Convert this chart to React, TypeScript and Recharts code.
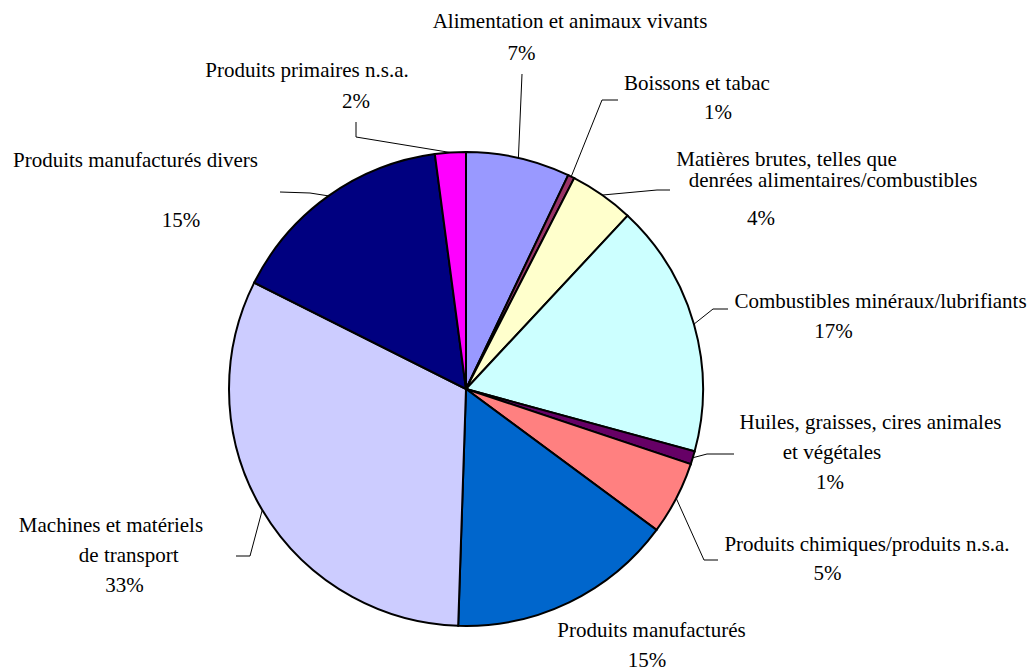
import React from 'react';
import { PieChart, Pie, Cell } from 'recharts';

const CATEGORIES = [
  'Alimentation et animaux vivants',
  'Boissons et tabac',
  'Matières brutes, telles que\ndenrées alimentaires/combustibles',
  'Combustibles minéraux/lubrifiants',
  'Huiles, graisses, cires animales\net végétales',
  'Produits chimiques/produits n.s.a.',
  'Produits manufacturés',
  'Machines et matériels\nde transport',
  'Produits manufacturés divers',
  'Produits primaires n.s.a.',
];
const SHARES = [7.1, 0.45, 4.4, 17.3, 0.9, 5.0, 15.4, 31.9, 15.5, 2.1];
const PCT_LABELS = ['7%', '1%', '4%', '17%', '1%', '5%', '15%', '33%', '15%', '2%'];

const COLORS = [
  '#9999FF', '#993366', '#FFFFCC', '#CCFFFF', '#660066',
  '#FF8080', '#0066CC', '#CCCCFF', '#000080', '#FF00FF',
];

// label layout, offsets from the pie centre: one [x, baseline] per text line
const TEXT_POS: number[][][] = [
  [[104, -361], [55.5, -329]],
  [[231, -299], [252, -270]],
  [[320.5, -223], [367, -202], [295, -164]],
  [[414.5, -81], [367.5, -51]],
  [[404.5, 40], [366, 70], [364, 100]],
  [[401, 162], [361.5, 191]],
  [[185.5, 248], [181, 278]],
  [[-355, 143], [-337.3, 173], [-341.5, 203]],
  [[-330.5, -222], [-285, -162]],
  [[-159, -312], [-110, -281]],
];

// leader line points after the arc point, offsets from the pie centre
const LEADERS: number[][][] = [
  [[56, -315]],
  [[136, -289], [152, -289]],
  [[191, -199], [204, -199]],
  [[247, -80], [262, -80]],
  [[241, 65], [268, 65]],
  [[238, 171], [252, 171]],
  [],
  [[-216, 167], [-230, 167]],
  [[-156, -196], [-186, -197]],
  [[-110, -252], [-110, -267]],
];

const RADIAN = Math.PI / 180;
const FONT = "'Liberation Serif', 'Times New Roman', Times, serif";

const data = CATEGORIES.map((name, i) => ({ name, value: SHARES[i] }));

const renderLabel = (props: any) => {
  const { cx, cy, midAngle, outerRadius, index } = props;
  const sx = cx + outerRadius * Math.cos(-midAngle * RADIAN);
  const sy = cy + outerRadius * Math.sin(-midAngle * RADIAN);
  const pts = LEADERS[index];
  const lines = [...CATEGORIES[index].split('\n'), PCT_LABELS[index]];
  const pos = TEXT_POS[index];
  let d = `M${sx},${sy}`;
  pts.forEach(p => { d += ` L${cx + p[0]},${cy + p[1]}`; });
  return (
    <g key={`lbl-${index}`}>
      {pts.length > 0 && <path d={d} stroke="#000" strokeWidth={1} fill="none" />}
      {lines.map((t, j) => (
        <text
          key={j}
          x={cx + pos[j][0]}
          y={cy + pos[j][1]}
          textAnchor="middle"
          style={{ fontFamily: FONT, fontSize: 21 }}
          fill="#000"
        >
          {t}
        </text>
      ))}
    </g>
  );
};

export default function App() {
  return (
    <div style={{ position: 'absolute', left: 0, top: 0, background: '#fff' }}>
      <PieChart width={1031} height={669} margin={{ top: 0, right: 0, bottom: 0, left: 0 }}>
        <Pie
          data={data}
          dataKey="value"
          cx={466}
          cy={389}
          outerRadius={237}
          startAngle={90}
          endAngle={-270}
          stroke="#000"
          strokeWidth={2}
          label={renderLabel}
          labelLine={false}
          isAnimationActive={false}
        >
          {data.map((entry, i) => (
            <Cell key={`cell-${i}`} fill={COLORS[i]} />
          ))}
        </Pie>
      </PieChart>
    </div>
  );
}
